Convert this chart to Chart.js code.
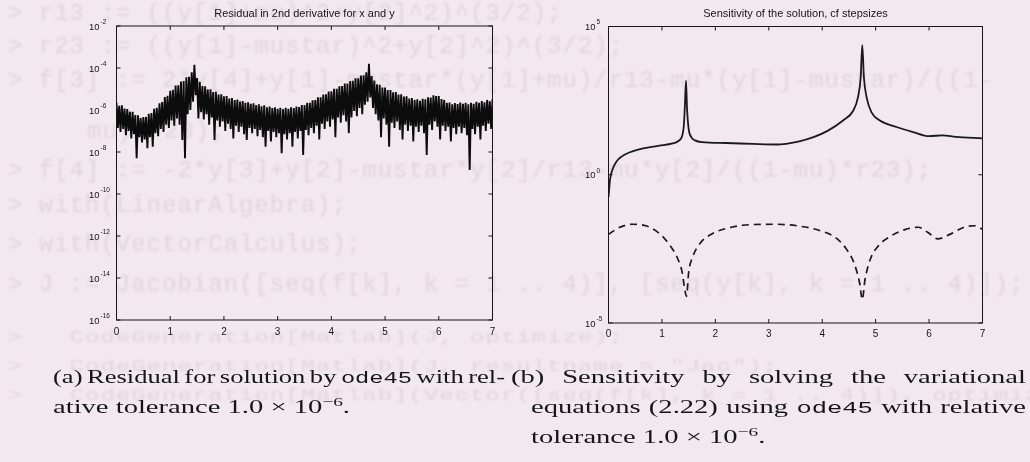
<!DOCTYPE html>
<html>
<head>
<meta charset="utf-8">
<title>Residual and sensitivity</title>
<script src="https://cdn.jsdelivr.net/npm/chart.js@4.4.1/dist/chart.umd.min.js"></script>
<style>
  html, body { margin: 0; padding: 0; }
  body { width: 1030px; height: 462px; overflow: hidden; position: relative; background: #f2e9ee; }
  #listing { position: absolute; left: 0; top: 0; width: 1030px; height: 462px; filter: blur(1.3px); }
  #listing div { position: absolute; white-space: pre; font-family: "Liberation Mono", monospace;
                 font-size: 24px; line-height: 24px; letter-spacing: 1px; color: #e0d5db; transform-origin: 0 50%; }
  canvas { position: absolute; top: 0; }
  #residualChart { left: 0; }
  #sensitivityChart { left: 515px; }
  .cap { position: absolute; font-family: "Liberation Serif", serif; font-size: 18.5px; line-height: 20px;
         color: #161616; white-space: nowrap; transform-origin: 0 0; }
  .cap .tt { font-family: "Liberation Mono", monospace; font-size: 16.5px; }
  .cap sup { font-size: 12.5px; line-height: 0; vertical-align: 7.5px; }
</style>
</head>
<body>
<div id="listing"></div>

<canvas id="residualChart" width="515" height="350"></canvas>
<canvas id="sensitivityChart" width="515" height="350"></canvas>

<div class="cap" id="capA1" data-left="53" data-base="383" data-w="452">(a) Residual for solution by <span class="tt">ode45</span> with rel-</div>
<div class="cap" id="capA2" data-left="53" data-base="413">ative tolerance 1.0 × 10<sup>−6</sup>.</div>
<div class="cap" id="capB1" data-left="511" data-base="383" data-w="515">(b) Sensitivity by solving the variational</div>
<div class="cap" id="capB2" data-left="531" data-base="413" data-w="495">equations (2.22) using <span class="tt">ode45</span> with relative</div>
<div class="cap" id="capB3" data-left="531" data-base="443">tolerance 1.0 × 10<sup>−6</sup>.</div>

<script>
// ---- Residual of the 2nd derivative (log10 values), sampled every RES_STEP in t ----
const RES_STEP = 0.05;
// upper edge of the oscillation at t = 0, 0.05, ..., 7
const residualPeaks = [
  -5.66, -5.80, -5.78, -5.93, -5.95, -6.08, -6.09, -6.24, -6.25, -6.38,
  -6.34, -6.33, -6.18, -6.14, -5.94, -5.89, -5.68, -5.62, -5.38, -5.32,
  -5.08, -5.04, -4.84, -4.82, -4.64, -4.62, -4.44, -4.42, -4.20, -3.85,
  -4.48, -4.66, -4.86, -4.87, -5.02, -5.01, -5.14, -5.13, -5.26, -5.25,
  -5.35, -5.34, -5.45, -5.43, -5.53, -5.50, -5.60, -5.57, -5.66, -5.63,
  -5.71, -5.68, -5.77, -5.73, -5.82, -5.78, -5.87, -5.83, -5.91, -5.87,
  -5.94, -5.89, -5.96, -5.89, -5.94, -5.87, -5.91, -5.83, -5.86, -5.76,
  -5.77, -5.66, -5.66, -5.54, -5.53, -5.40, -5.39, -5.26, -5.25, -5.12,
  -5.11, -4.99, -4.99, -4.87, -4.86, -4.74, -4.74, -4.62, -4.61, -4.49,
  -4.49, -4.36, -4.35, -4.20, -3.80, -4.38, -4.60, -4.78, -4.80, -4.93,
  -4.93, -5.05, -5.05, -5.16, -5.15, -5.26, -5.25, -5.36, -5.35, -5.46,
  -5.43, -5.52, -5.49, -5.56, -5.47, -5.49, -5.39, -5.41, -5.30, -5.33,
  -5.33, -5.48, -5.52, -5.66, -5.65, -5.73, -5.67, -5.72, -5.65, -5.71,
  -5.66, -5.73, -5.66, -5.70, -5.61, -5.66, -5.57, -5.63, -5.52, -5.58,
  -5.48
];
// lower turning points, half a step after each upper one
const residualDips = [
  -6.85, -7.05, -6.90, -7.20, -7.00, -7.35, -7.15, -8.30, -7.30, -7.55,
  -7.40, -7.82, -7.30, -7.75, -7.10, -7.25, -6.90, -7.05, -6.70, -6.85,
  -6.50, -6.75, -6.40, -6.70, -7.43, -8.30, -6.20, -6.00, -5.60, -5.30,
  -6.40, -6.10, -6.45, -6.20, -6.70, -6.35, -7.43, -6.50, -6.80, -6.55,
  -7.00, -6.65, -6.90, -7.35, -6.75, -7.05, -6.80, -7.15, -7.43, -6.85,
  -7.10, -6.90, -7.25, -6.95, -7.30, -7.75, -7.00, -7.50, -7.05, -7.30,
  -7.10, -8.06, -7.15, -7.40, -7.10, -7.75, -7.05, -7.35, -7.00, -8.14,
  -6.95, -7.20, -6.85, -7.10, -6.75, -7.40, -6.65, -6.90, -6.55, -6.80,
  -6.45, -7.30, -6.35, -6.60, -6.25, -6.55, -7.10, -6.35, -6.05, -6.30,
  -5.90, -6.20, -5.75, -5.60, -5.40, -5.90, -6.20, -6.50, -7.30, -6.40,
  -6.70, -7.75, -6.60, -6.85, -6.55, -6.95, -7.40, -6.70, -7.00, -6.75,
  -7.50, -6.80, -7.05, -6.75, -7.10, -8.14, -6.70, -6.95, -6.55, -6.80,
  -7.40, -6.75, -7.00, -6.80, -7.50, -6.85, -7.15, -6.80, -7.10, -6.85,
  -7.20, -8.86, -6.90, -7.15, -6.80, -7.40, -6.75, -7.00, -6.65, -6.90
];
const residualTitle = 'Residual in 2nd derivative for x and y';
const residualYExps = [-2, -4, -6, -8, -10, -12, -14, -16];

// ---- Sensitivity of the solution (log10 values) ----
const solidT = [0, 0.03, 0.08, 0.15, 0.25, 0.40, 0.65, 0.95, 1.20, 1.30, 1.38, 1.41, 1.43, 1.45,
                1.47, 1.50, 1.55, 1.62, 1.75, 2.20, 2.70, 3.15, 3.55, 3.85, 4.10, 4.39, 4.58, 4.67,
                4.72, 4.75, 4.78, 4.83, 4.92, 5.08, 5.39, 5.70, 6.00, 6.25, 6.50, 7.00];
const solidExp = [-0.75, -0.15, 0.20, 0.45, 0.62, 0.76, 0.89, 0.98, 1.06, 1.13, 1.32, 1.66, 2.34, 3.17,
                  2.23, 1.55, 1.27, 1.16, 1.10, 1.07, 1.04, 1.02, 1.12, 1.28, 1.48, 1.83, 2.16, 2.62,
                  3.29, 4.37, 3.29, 2.62, 2.11, 1.83, 1.61, 1.44, 1.30, 1.33, 1.28, 1.23];
const dashT = [0, 0.20, 0.45, 0.70, 0.95, 1.15, 1.30, 1.38, 1.43, 1.46, 1.50, 1.58, 1.72, 1.95,
               2.30, 2.70, 3.15, 3.60, 3.95, 4.25, 4.45, 4.60, 4.70, 4.75, 4.80, 4.90, 5.05, 5.30,
               5.55, 5.80, 5.98, 6.16, 6.39, 6.67, 6.85, 7.00];
const dashExp = [-2.01, -1.78, -1.67, -1.72, -1.98, -2.38, -2.85, -3.30, -3.90, -4.10, -3.30, -2.75,
                 -2.30, -1.98, -1.77, -1.68, -1.67, -1.74, -1.88, -2.12, -2.50, -3.00, -3.65, -4.21,
                 -3.55, -2.85, -2.40, -2.05, -1.85, -1.77, -1.95, -2.16, -2.01, -1.76, -1.72, -1.84];
const sensitivityTitle = 'Sensitivity of the solution, cf stepsizes';
const sensitivityYExps = [5, 0, -5];

const tTicks = [0, 1, 2, 3, 4, 5, 6, 7];

// Maple session listing printed on the page behind the figures
const listingLines = [
  [8, 15, 1, '> r13 := ((y[1]+mu)^2+y[2]^2)^(3/2);'],
  [8, 48, 1, '> r23 := ((y[1]-mustar)^2+y[2]^2)^(3/2);'],
  [8, 82, 1, '> f[3] := 2*y[4]+y[1]-mustar*(y[1]+mu)/r13-mu*(y[1]-mustar)/((1-'],
  [87, 133, 1, 'mu)*r23);'],
  [8, 172, 1, '> f[4] := -2*y[3]+y[2]-mustar*y[2]/r13-mu*y[2]/((1-mu)*r23);'],
  [8, 207, 1, '> with(LinearAlgebra);'],
  [8, 246, 1, '> with(VectorCalculus);'],
  [8, 286, 1, '> J := Jacobian([seq(f[k], k = 1 .. 4)], [seq(y[k], k = 1 .. 4)]);'],
  [8, 339, 0.7, '>   CodeGeneration[Matlab](J, optimize);'],
  [8, 368, 0.7, '>   CodeGeneration[Matlab](J, resultname = "Jac");'],
  [8, 397, 0.7, '>   CodeGeneration[Matlab](Vector([seq(f[k], k = 1 .. 4)]), optimize);']
];

const listing = document.getElementById('listing');
listingLines.forEach(([left, cy, sy, text]) => {
  const d = document.createElement('div');
  d.textContent = text;
  d.style.left = left + 'px';
  d.style.top = (cy - 13) + 'px';
  if (sy !== 1) d.style.transform = 'scaleY(' + sy + ')';
  listing.appendChild(d);
});

// Boxed axes with inward ticks and 10^n labels, in the MATLAB style
const matlabAxes = {
  id: 'matlabAxes',
  afterDatasetsDraw(chart, _args, o) {
    const { ctx, chartArea: a } = chart;
    const xs = chart.scales.x, ys = chart.scales.y;
    ctx.save();
    ctx.strokeStyle = '#161616';
    ctx.lineWidth = 1;
    ctx.strokeRect(a.left, a.top, a.right - a.left, a.bottom - a.top);
    ctx.beginPath();
    o.xTicks.forEach(v => {
      const px = xs.getPixelForValue(v);
      ctx.moveTo(px, a.bottom); ctx.lineTo(px, a.bottom - o.tickLen);
      ctx.moveTo(px, a.top); ctx.lineTo(px, a.top + o.tickLen);
    });
    o.yExps.forEach(e => {
      const py = ys.getPixelForValue(Math.pow(10, e));
      ctx.moveTo(a.left, py); ctx.lineTo(a.left + o.tickLen, py);
      ctx.moveTo(a.right, py); ctx.lineTo(a.right - o.tickLen, py);
    });
    ctx.stroke();

    ctx.fillStyle = '#151515';
    ctx.textBaseline = 'middle';
    ctx.textAlign = 'center';
    ctx.font = '10px "Liberation Sans"';
    o.xTicks.forEach(v => ctx.fillText(String(v), xs.getPixelForValue(v), a.bottom + o.xLabelGap));

    ctx.textAlign = 'left';
    o.yExps.forEach(e => {
      const py = ys.getPixelForValue(Math.pow(10, e));
      ctx.font = '9.5px "Liberation Sans"';
      ctx.fillText('10', o.yLabelX, py + 1);
      const w = ctx.measureText('10').width;
      ctx.font = '6.5px "Liberation Sans"';
      ctx.fillText(String(e), o.yLabelX + w + 1, py - 4);
    });

    ctx.textAlign = 'center';
    ctx.font = '11px "Liberation Sans"';
    ctx.fillText(o.title, (a.left + a.right) / 2, o.titleY);
    ctx.restore();
  }
};

function chartOptions(padding, yMin, yMax, axes) {
  return {
    responsive: false,
    animation: false,
    devicePixelRatio: 1,
    events: [],
    layout: { padding },
    plugins: { legend: { display: false }, tooltip: { enabled: false }, matlabAxes: axes },
    scales: {
      x: { type: 'linear', min: 0, max: 7, display: false },
      y: { type: 'logarithmic', min: yMin, max: yMax, display: false }
    },
    elements: { point: { radius: 0 } }
  };
}

// Residual trace: alternate between upper and lower turning points
const residualPoints = [];
residualPeaks.forEach((e, i) => {
  residualPoints.push({ x: i * RES_STEP, y: Math.pow(10, e) });
  if (i < residualDips.length) residualPoints.push({ x: (i + 0.5) * RES_STEP, y: Math.pow(10, residualDips[i]) });
});

new Chart(document.getElementById('residualChart'), {
  type: 'line',
  data: {
    datasets: [{
      data: residualPoints,
      borderColor: '#0c0c0c',
      borderWidth: 1.9,
      borderJoinStyle: 'bevel',
      tension: 0,
      fill: false
    }]
  },
  options: chartOptions({ left: 116.5, top: 26, right: 22.5, bottom: 30 }, 1e-16, 1e-2, {
    title: residualTitle, titleY: 14, xTicks: tTicks, yExps: residualYExps,
    tickLen: 4, xLabelGap: 12, yLabelX: 89
  }),
  plugins: [matlabAxes]
});

new Chart(document.getElementById('sensitivityChart'), {
  type: 'line',
  data: {
    datasets: [
      {
        data: solidT.map((t, i) => ({ x: t, y: Math.pow(10, solidExp[i]) })),
        borderColor: '#1a1a1a',
        borderWidth: 1.8,
        cubicInterpolationMode: 'monotone',
        fill: false
      },
      {
        data: dashT.map((t, i) => ({ x: t, y: Math.pow(10, dashExp[i]) })),
        borderColor: '#1a1a1a',
        borderWidth: 1.7,
        borderDash: [7, 5],
        cubicInterpolationMode: 'monotone',
        fill: false
      }
    ]
  },
  options: chartOptions({ left: 93.5, top: 26.5, right: 47.5, bottom: 27 }, 1e-5, 1e5, {
    title: sensitivityTitle, titleY: 14, xTicks: tTicks, yExps: sensitivityYExps,
    tickLen: 4, xLabelGap: 11, yLabelX: 70
  }),
  plugins: [matlabAxes]
});

// Captions: wide serif text. The closing line of (a) fixes the glyph stretch;
// justified lines get extra word spacing, and a line that would overflow
// its column is tightened and squeezed to fit instead.
const refCap = document.getElementById('capA2');
const stretch = 297 / refCap.getBoundingClientRect().width;
document.querySelectorAll('.cap').forEach(el => {
  el.style.left = el.dataset.left + 'px';
  el.style.top = (el.dataset.base - 16.4) + 'px';
  let sx = stretch;
  const target = Number(el.dataset.w || 0);
  if (target) {
    const gaps = el.textContent.trim().split(/\s+/).length - 1;
    const w = el.getBoundingClientRect().width;
    const extra = target / stretch - w;
    if (extra >= 0) {
      el.style.wordSpacing = (extra / gaps) + 'px';
    } else {
      el.style.wordSpacing = '-1.5px';
      sx = target / el.getBoundingClientRect().width;
    }
  }
  el.style.transform = 'scaleX(' + sx + ')';
});
</script>
</body>
</html>
